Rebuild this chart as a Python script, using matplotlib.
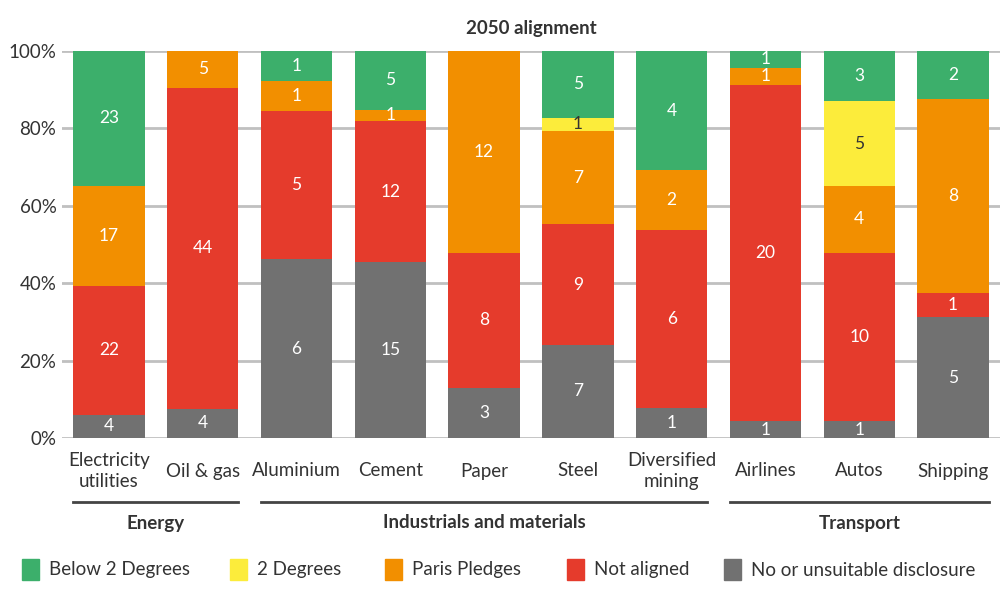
import matplotlib
matplotlib.use("Agg")
import matplotlib.pyplot as plt
import numpy as np

plt.rcParams['font.family'] = ['Lato', 'DejaVu Sans']

categories = ["Electricity\nutilities", "Oil & gas", "Aluminium", "Cement", "Paper",
              "Steel", "Diversified\nmining", "Airlines", "Autos", "Shipping"]
series_names = ["No or unsuitable disclosure", "Not aligned", "Paris Pledges", "2 Degrees", "Below 2 Degrees"]
no_disclosure = [4, 4, 6, 15, 3, 7, 1, 1, 1, 5]
not_aligned = [22, 44, 5, 12, 8, 9, 6, 20, 10, 1]
paris_pledges = [17, 5, 1, 1, 12, 7, 2, 1, 4, 8]
two_degrees = [0, 0, 0, 0, 0, 1, 0, 0, 5, 0]
below_two = [23, 0, 1, 5, 0, 5, 4, 1, 3, 2]
groups = [("Energy", 0, 1), ("Industrials and materials", 2, 6), ("Transport", 7, 9)]
yticks = [0, 20, 40, 60, 80, 100]

colors = ["#717171", "#e53b2c", "#f28f00", "#fcec3b", "#3caf6b"]
text_colors = ["white", "white", "white", "#333333", "white"]

data = np.array([no_disclosure, not_aligned, paris_pledges, two_degrees, below_two], dtype=float)
totals = data.sum(axis=0)
pct = data / totals * 100

fig = plt.figure(figsize=(10.04, 5.99), dpi=100)
ax = fig.add_axes([62/1004, 1 - 438/599, (1000-62)/1004, (438-51)/599])

x = np.arange(len(categories))
bottom = np.zeros(len(categories))
for i in range(len(series_names)):
    ax.bar(x, pct[i], bottom=bottom, width=0.76, color=colors[i], zorder=2, linewidth=0)
    for j in range(len(categories)):
        if data[i, j] > 0:
            ax.text(x[j], bottom[j] + pct[i, j] / 2, f"{int(data[i, j])}", ha='center', va='center',
                    color=text_colors[i], fontsize=12.5, zorder=3)
    bottom += pct[i]

ax.set_xlim(-0.5, 9.5)
ax.set_ylim(0, 100)
ax.set_yticks(yticks)
ax.set_yticklabels([f"{t}%" for t in yticks], fontsize=13.5, color="#333333")
ax.yaxis.grid(True, color="#c0c0c0", linewidth=2, zorder=0)
ax.set_axisbelow(True)
for s in ax.spines.values():
    s.set_visible(False)
ax.tick_params(axis='y', length=0, pad=4)
ax.set_xticks(x)
ax.set_xticklabels([])
ax.tick_params(axis='x', length=0)

label_y = 1 - 471/599
for j, c in enumerate(categories):
    fx = ax.transData.transform((x[j], 0))[0] / fig.bbox.width
    fig.text(fx, label_y, c, ha='center', va='center', fontsize=13.5, color="#333333",
             linespacing=1.25, multialignment='center')

ax.set_title("2050 alignment", fontsize=13.5, fontweight='bold', color="#333333", pad=12)

# group lines and labels
for name, a, b in groups:
    x0 = x[a] - 0.38
    x1 = x[b] + 0.38
    line_y = 1 - 502/599
    fx0 = ax.transData.transform((x0, 0))[0] / fig.bbox.width
    fx1 = ax.transData.transform((x1, 0))[0] / fig.bbox.width
    fig.add_artist(plt.Line2D([fx0, fx1], [line_y, line_y], color="#444444", linewidth=2))
    fig.text((fx0 + fx1) / 2, 1 - 523/599, name, ha='center', va='center', fontsize=13.5,
             fontweight='bold', color="#333333")

# legend
leg_x = [22, 230, 385, 567, 724]
legend_order = [4, 3, 2, 1, 0]
for px, idx in zip(leg_x, legend_order):
    fig.add_artist(plt.Rectangle((px/1004, 1 - 580/599), 17/1004, 21/599, color=colors[idx]))
    fig.text((px + 27)/1004, 1 - 570/599, series_names[idx], ha='left', va='center',
             fontsize=13.5, color="#333333")

fig.savefig("out.png", dpi=100, facecolor="white")
